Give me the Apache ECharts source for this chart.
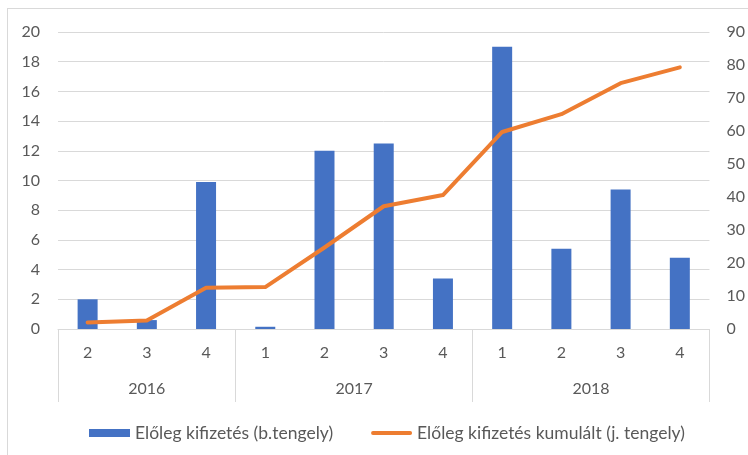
<!DOCTYPE html>
<html>
<head>
<meta charset="utf-8">
<script src="https://cdn.jsdelivr.net/npm/echarts@6/dist/echarts.min.js"></script>
<style>
  html, body { margin: 0; padding: 0; background: #fff; overflow: hidden; }
  #wrap { position: relative; width: 748px; height: 455px; }
  #frame { position: absolute; left: 7px; top: 8px; width: 760px; height: 470px;
           border: 1px solid #d9d9d9; box-sizing: border-box; pointer-events: none; }
  #chart { position: absolute; left: 0; top: 0; width: 748px; height: 455px; }
</style>
</head>
<body>
<div id="wrap">
  <div id="frame"></div>
  <div id="chart"></div>
</div>
<script>
// Quarterly advance payments (bars, left axis) and their running total (line, right axis)
const quarters = ['2', '3', '4', '1', '2', '3', '4', '1', '2', '3', '4'];
const years = ['2016', '2017', '2018'];
const quartersPerYear = [3, 4, 4];
const payments = [2.0, 0.6, 9.9, 0.15, 12.0, 12.5, 3.4, 19.0, 5.4, 9.4, 4.8];
const cumulative = [2.0, 2.6, 12.5, 12.7, 24.7, 37.2, 40.6, 59.7, 65.1, 74.5, 79.3];
const leftTicks = { min: 0, max: 20, interval: 2 };
const rightTicks = { min: 0, max: 90, interval: 10 };

const barName = 'Előleg kifizetés (b.tengely)';
const lineName = 'Előleg kifizetés kumulált (j. tengely)';

// Year group boundaries and centres on a 0..n scale matching the category band
const bounds = [0];
quartersPerYear.forEach(n => bounds.push(bounds[bounds.length - 1] + n));
const centres = years.map((y, i) => (bounds[i] + bounds[i + 1]) / 2);

const FONT = 'Lato, "Liberation Sans", sans-serif';
const TXT = '#595959';
const GRID = '#d9d9d9';

// Legend key for the line: a thin stroke, with invisible corner anchors keeping the icon box
const lineKey = 'path://M0,0L0,0ZM1,2L40,2A2,2 0 0 1 40,6L1,6A2,2 0 0 1 1,2ZM41,8L41,8Z';

const chart = echarts.init(document.getElementById('chart'), null, { renderer: 'canvas' });
chart.setOption({
  animation: false,
  textStyle: { fontFamily: FONT },
  grid: { left: 58, right: 38, top: 32, bottom: 126, containLabel: false },
  legend: {
    left: 84, top: 419,
    itemWidth: 41, itemHeight: 8, itemGap: 38,
    textStyle: { color: TXT, fontSize: 17.5, fontFamily: FONT },
    data: [
      { name: barName, icon: 'rect' },
      { name: lineName, icon: lineKey }
    ]
  },
  xAxis: [
    {
      type: 'category',
      data: quarters,
      position: 'bottom',
      axisLine: { show: true, lineStyle: { color: GRID, width: 1 } },
      axisTick: { show: false },
      axisLabel: { color: TXT, fontSize: 16, margin: 16, fontFamily: FONT },
      splitLine: { show: false }
    },
    {
      type: 'value',
      min: 0,
      max: bounds[bounds.length - 1],
      position: 'bottom',
      axisLine: { show: false },
      axisTick: {
        show: true, inside: false, length: 73,
        customValues: bounds,
        lineStyle: { color: GRID, width: 1 }
      },
      axisLabel: {
        show: true, color: TXT, fontSize: 16, margin: 52, fontFamily: FONT,
        customValues: centres,
        formatter: v => years[centres.indexOf(v)] || ''
      },
      splitLine: { show: false }
    }
  ],
  yAxis: [
    {
      type: 'value',
      min: leftTicks.min, max: leftTicks.max, interval: leftTicks.interval,
      axisLine: { show: false },
      axisTick: { show: false },
      axisLabel: { color: TXT, fontSize: 16, margin: 18, fontFamily: FONT },
      splitLine: { show: true, lineStyle: { color: GRID, width: 1 } }
    },
    {
      type: 'value',
      min: rightTicks.min, max: rightTicks.max, interval: rightTicks.interval,
      position: 'right',
      axisLine: { show: false },
      axisTick: { show: false },
      axisLabel: { color: TXT, fontSize: 16, margin: 17, fontFamily: FONT },
      splitLine: { show: false }
    }
  ],
  series: [
    {
      name: barName,
      type: 'bar',
      xAxisIndex: 0,
      yAxisIndex: 0,
      data: payments,
      barWidth: 20,
      itemStyle: { color: '#4472C4' }
    },
    {
      name: lineName,
      type: 'line',
      xAxisIndex: 0,
      yAxisIndex: 1,
      data: cumulative,
      symbol: 'none',
      lineStyle: { color: '#ED7D31', width: 4, join: 'round', cap: 'round' },
      itemStyle: { color: '#ED7D31' }
    }
  ]
});
</script>
</body>
</html>
